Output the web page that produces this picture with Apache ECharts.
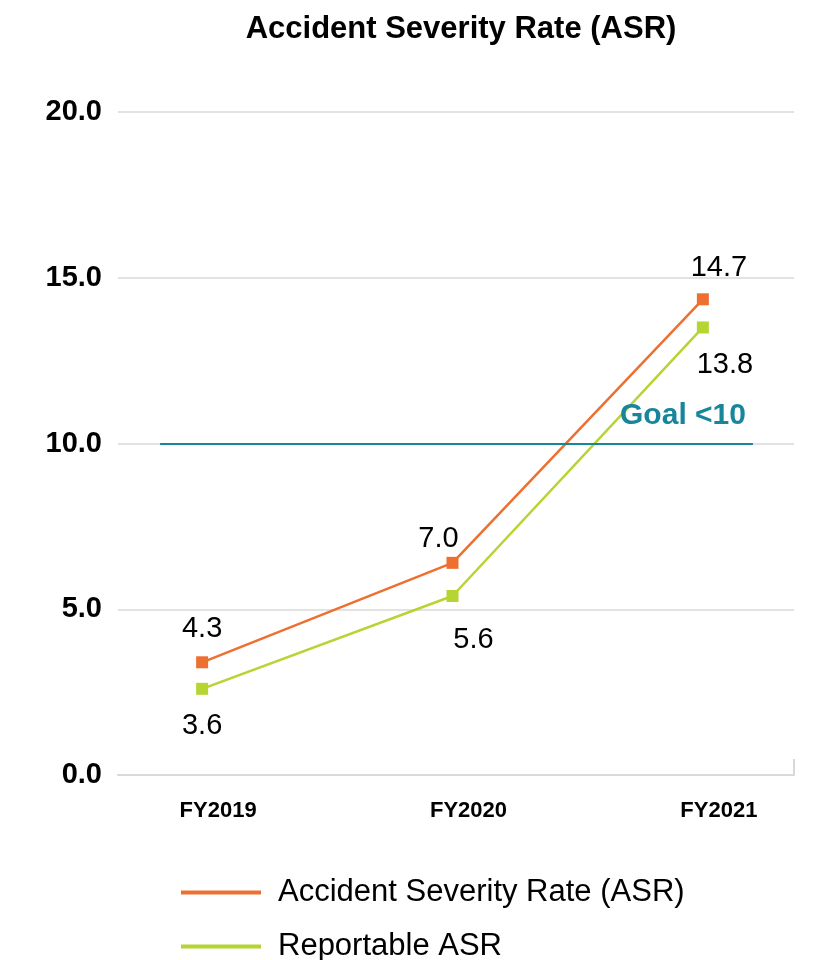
<!DOCTYPE html>
<html>
<head>
<meta charset="utf-8">
<script src="https://cdn.jsdelivr.net/npm/echarts@6/dist/echarts.min.js"></script>
<style>
  html, body { margin: 0; padding: 0; background: #fff; }
  #chart { width: 816px; height: 960px; }
</style>
</head>
<body>
<div id="chart"></div>
<script>
const years = ['FY2019', 'FY2020', 'FY2021']
const asrValues = [3.4, 6.4, 14.35]
const asrLabels = ['4.3', '7.0', '14.7']
const reportableValues = [2.6, 5.4, 13.5]
const reportableLabels = ['3.6', '5.6', '13.8']
const yTicks = [0, 5, 10, 15, 20]
const goal = 10

// per-point label nudges, copied by eye from the original
const asrNudge = [[0, 0], [-14, 10], [16, 2]]
const repNudge = [[0, 0], [21, 7], [22, 0]]

const ORANGE = '#ed7031', GREEN = '#b6d432', TEAL = '#17869b'
const FONT = 'Liberation Sans, Arial, sans-serif'

const points = (vals, labels, nudge) => vals.map((v, i) => ({
  value: [i, v],
  label: { formatter: labels[i], offset: nudge[i] }
}))

const chart = echarts.init(document.getElementById('chart'), null, { renderer: 'canvas' })

chart.setOption({
  animation: false,
  backgroundColor: '#fff',
  textStyle: { fontFamily: FONT },
  title: {
    text: 'Accident Severity Rate (ASR)',
    left: 456, top: 9, textAlign: 'center',
    textStyle: { fontSize: 31, fontWeight: 'bold', color: '#000', fontFamily: FONT }
  },
  legend: {
    orient: 'vertical', left: 176, top: 872, height: 85, itemGap: 23,
    itemWidth: 80, itemHeight: 4, icon: 'rect',
    textStyle: { fontSize: 31, color: '#000', lineHeight: 30, padding: [0, 0, 0, 12], fontFamily: FONT },
    data: ['Accident Severity Rate (ASR)', 'Reportable ASR']
  },
  grid: { left: 118, right: 22, top: 112, bottom: 185 },
  xAxis: {
    type: 'value', min: -0.336, max: 2.364,
    axisLine: { show: true, lineStyle: { color: '#d9d9d9', width: 2 } },
    axisTick: { show: true, inside: true, length: 16, customValues: [2.364], lineStyle: { color: '#d9d9d9', width: 2 } },
    axisLabel: {
      customValues: [0, 1, 2], formatter: v => years[Math.round(v)],
      fontSize: 22, fontWeight: 'bold', color: '#000', margin: 25, padding: [0, 0, 0, 32], fontFamily: FONT
    },
    splitLine: { show: false }
  },
  yAxis: {
    type: 'value', min: yTicks[0], max: yTicks[yTicks.length - 1], interval: 5,
    axisLine: { show: false }, axisTick: { show: false },
    axisLabel: { formatter: v => v.toFixed(1), fontSize: 29, fontWeight: 'bold', color: '#000', margin: 16, fontFamily: FONT },
    splitLine: { lineStyle: { color: '#d9d9d9', width: 1.5 } }
  },
  series: [
    {
      name: 'Accident Severity Rate (ASR)', type: 'line',
      data: points(asrValues, asrLabels, asrNudge),
      symbol: 'rect', symbolSize: 12,
      lineStyle: { color: ORANGE, width: 2.5 }, itemStyle: { color: ORANGE },
      label: { show: true, position: 'top', distance: 13, fontSize: 29, color: '#000', fontFamily: FONT },
      markLine: {
        silent: true, symbol: 'none',
        lineStyle: { color: TEAL, width: 2, type: 'solid' },
        label: {
          show: true, position: 'insideEndTop', distance: [7, 13],
          formatter: 'Goal <10', fontSize: 30, fontWeight: 'bold', color: TEAL, fontFamily: FONT
        },
        data: [[{ coord: [-0.168, goal] }, { coord: [2.2, goal] }]]
      },
      z: 3
    },
    {
      name: 'Reportable ASR', type: 'line',
      data: points(reportableValues, reportableLabels, repNudge),
      symbol: 'rect', symbolSize: 12,
      lineStyle: { color: GREEN, width: 2.5 }, itemStyle: { color: GREEN },
      label: { show: true, position: 'bottom', distance: 17, fontSize: 29, color: '#000', fontFamily: FONT },
      z: 2
    }
  ]
})
</script>
</body>
</html>
